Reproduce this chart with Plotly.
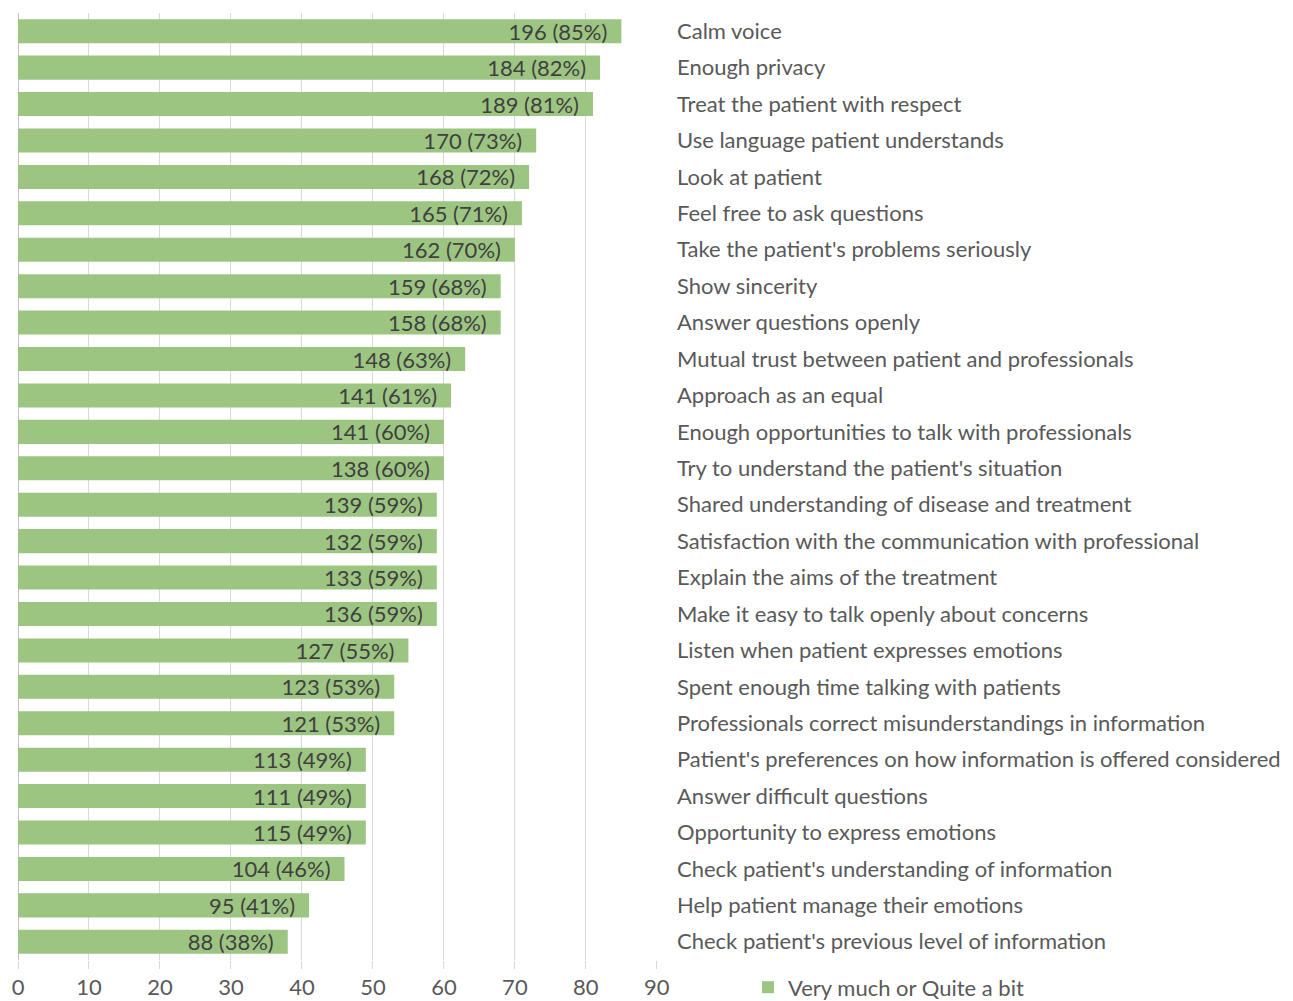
import plotly.graph_objects as go

categories = [
    "Calm voice",
    "Enough privacy",
    "Treat the patient with respect",
    "Use language patient understands",
    "Look at patient",
    "Feel free to ask questions",
    "Take the patient's problems seriously",
    "Show sincerity",
    "Answer questions openly",
    "Mutual trust between patient and professionals",
    "Approach as an equal",
    "Enough opportunities to talk with professionals",
    "Try to understand the patient's situation",
    "Shared understanding of disease and treatment",
    "Satisfaction with the communication with professional",
    "Explain the aims of the treatment",
    "Make it easy to talk openly about concerns",
    "Listen when patient expresses emotions",
    "Spent enough time talking with patients",
    "Professionals correct misunderstandings in information",
    "Patient's preferences on how information is offered considered",
    "Answer difficult questions",
    "Opportunity to express emotions",
    "Check patient's understanding of information",
    "Help patient manage their emotions",
    "Check patient's previous level of information",
]
counts = [196, 184, 189, 170, 168, 165, 162, 159, 158, 148, 141, 141, 138,
          139, 132, 133, 136, 127, 123, 121, 113, 111, 115, 104, 95, 88]
percents = [85, 82, 81, 73, 72, 71, 70, 68, 68, 63, 61, 60, 60,
            59, 59, 59, 59, 55, 53, 53, 49, 49, 49, 46, 41, 38]
x_ticks = [0, 10, 20, 30, 40, 50, 60, 70, 80, 90]
series_name = "Very much or Quite a bit"

labels = [f"{c} ({p}%)\u2002" for c, p in zip(counts, percents)]

FONT = "Lato"
FS = 22
fig = go.Figure(go.Bar(
    x=percents,
    y=categories,
    orientation="h",
    name=series_name,
    marker=dict(color="#9dc582", line=dict(width=0)),
    text=labels,
    textposition="inside",
    insidetextanchor="end",
    textfont=dict(family=FONT, size=FS, color="#404040"),
    showlegend=True,
    cliponaxis=False,
))

fig.update_layout(
    width=1293, height=1001,
    margin=dict(l=10, r=644, t=5, b=49, autoexpand=False),
    plot_bgcolor="white", paper_bgcolor="white",
    bargap=0.34,
    font=dict(family=FONT, size=FS, color="#595959"),
    uniformtext=dict(minsize=FS, mode="show"),
    xaxis=dict(
        range=[0, 90.02],
        tickvals=x_ticks,
        showgrid=True, gridcolor="#d9d9d9", gridwidth=1,
        ticks="outside", ticklen=8, tickcolor="#d9d9d9",
        ticklabelstandoff=0,
        zeroline=True, zerolinecolor="#bfbfbf", zerolinewidth=1,
        showline=False,
        automargin=False,
        tickfont=dict(family=FONT, size=FS, color="#595959"),
        fixedrange=True,
    ),
    yaxis=dict(
        side="right",
        categoryorder="array", categoryarray=categories,
        autorange="reversed",
        showgrid=False, ticks="", showline=False,
        automargin=False,
        ticklabelstandoff=19,
        tickfont=dict(family=FONT, size=FS, color="#595959"),
    ),
    legend=dict(
        x=1.1424, y=-0.029, xanchor="left", yanchor="middle",
        orientation="h",
        font=dict(family=FONT, size=FS, color="#595959"),
        itemwidth=30,
        bgcolor="rgba(0,0,0,0)",
    ),
)

fig.write_html("out.html")
